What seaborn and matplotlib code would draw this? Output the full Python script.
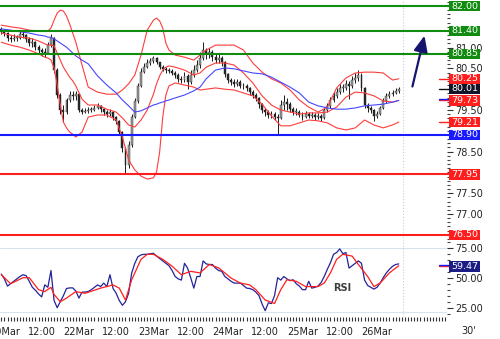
import numpy as np
import pandas as pd
import matplotlib
matplotlib.use("Agg")
import matplotlib.pyplot as plt
import seaborn as sns
from matplotlib.ticker import MultipleLocator, FixedLocator, FixedFormatter
from matplotlib.patches import Rectangle
from matplotlib.transforms import blended_transform_factory

# ---------------- data (hourly bars, hour 0 = "20Mar" tick) ----------------
first_hour = -1
first_open = 81.45
close = [81.40, 81.35, 81.23, 81.21, 81.23, 81.23, 81.33, 81.30, 81.21, 81.11,
         81.13, 81.01, 80.94, 80.89, 80.87, 81.06, 81.23, 80.46, 79.86, 79.50,
         79.45, 79.74, 79.86, 79.84, 79.88, 79.50, 79.45, 79.48, 79.50, 79.50,
         79.55, 79.60, 79.52, 79.45, 79.40, 79.45, 79.33, 79.24, 78.97, 78.59,
         78.18, 78.66, 79.33, 79.72, 80.08, 80.41, 80.53, 80.63, 80.68, 80.75,
         80.65, 80.53, 80.49, 80.46, 80.44, 80.39, 80.34, 80.25, 80.22, 80.32,
         80.17, 80.34, 80.46, 80.58, 80.75, 80.94, 80.85, 80.89, 80.77, 80.70,
         80.75, 80.65, 80.37, 80.22, 80.17, 80.13, 80.17, 80.08, 80.08, 80.03,
         79.93, 79.86, 79.79, 79.64, 79.50, 79.45, 79.38, 79.40, 79.33, 79.31,
         79.62, 79.69, 79.64, 79.52, 79.45, 79.45, 79.38, 79.33, 79.40, 79.36,
         79.38, 79.33, 79.36, 79.31, 79.50, 79.60, 79.74, 79.84, 79.93, 80.03,
         80.03, 80.13, 80.08, 80.22, 80.27, 80.34, 80.03, 79.62, 79.55, 79.50,
         79.36, 79.40, 79.55, 79.72, 79.84, 79.88, 79.91, 79.96, 80.01]
high = [81.50, 81.45, 81.38, 81.30, 81.32, 81.30, 81.42, 81.40, 81.33, 81.25,
        81.22, 81.16, 81.06, 81.00, 80.98, 81.14, 81.32, 81.25, 80.50, 79.90,
        79.62, 79.80, 79.96, 79.95, 79.96, 79.88, 79.55, 79.55, 79.57, 79.57,
        79.62, 79.66, 79.62, 79.55, 79.50, 79.52, 79.47, 79.36, 79.26, 79.00,
        78.62, 78.75, 79.40, 79.80, 80.15, 80.50, 80.62, 80.72, 80.75, 80.80,
        80.78, 80.66, 80.58, 80.54, 80.52, 80.48, 80.44, 80.38, 80.32, 80.42,
        80.36, 80.45, 80.58, 80.70, 80.90, 81.13, 81.00, 80.98, 80.95, 80.85,
        80.85, 80.80, 80.68, 80.40, 80.28, 80.24, 80.25, 80.22, 80.16, 80.13,
        80.06, 79.97, 79.90, 79.82, 79.68, 79.56, 79.50, 79.48, 79.45, 79.40,
        79.75, 79.86, 79.80, 79.70, 79.58, 79.54, 79.50, 79.44, 79.47, 79.45,
        79.45, 79.42, 79.43, 79.40, 79.56, 79.68, 79.82, 79.93, 80.02, 80.12,
        80.12, 80.22, 80.20, 80.32, 80.40, 80.46, 80.40, 80.05, 79.68, 79.60,
        79.52, 79.48, 79.60, 79.78, 79.90, 79.95, 79.98, 80.04, 80.06]
low = [81.33, 81.28, 81.16, 81.13, 81.15, 81.16, 81.20, 81.22, 81.13, 81.04,
       81.02, 80.94, 80.86, 80.80, 80.78, 80.85, 81.02, 80.40, 79.80, 79.40,
       79.22, 79.40, 79.70, 79.75, 79.74, 79.45, 79.40, 79.42, 79.43, 79.45,
       79.47, 79.52, 79.46, 79.38, 79.33, 79.36, 79.26, 79.16, 78.90, 78.50,
       77.95, 78.10, 78.60, 79.30, 79.68, 80.05, 80.38, 80.50, 80.58, 80.64,
       80.60, 80.48, 80.43, 80.40, 80.38, 80.33, 80.28, 80.18, 80.14, 80.18,
       80.00, 80.12, 80.30, 80.42, 80.50, 80.70, 80.72, 80.75, 80.68, 80.62,
       80.62, 80.55, 80.30, 80.15, 80.10, 80.06, 80.08, 80.02, 80.00, 79.96,
       79.86, 79.78, 79.72, 79.56, 79.42, 79.36, 79.30, 79.30, 79.25, 78.90,
       79.28, 79.50, 79.50, 79.45, 79.38, 79.38, 79.32, 79.26, 79.30, 79.30,
       79.31, 79.27, 79.28, 79.24, 79.28, 79.46, 79.56, 79.70, 79.80, 79.88,
       79.94, 79.98, 79.76, 80.04, 80.15, 80.20, 79.95, 79.55, 79.46, 79.42,
       79.24, 79.30, 79.38, 79.52, 79.68, 79.80, 79.84, 79.88, 79.92]

band_hours = [-1, 2, 5, 8, 11, 13, 14, 15, 16, 17, 18, 19, 20, 21, 22, 23, 25, 27, 30, 33,
              36, 38, 40, 42, 44, 46, 48, 49, 50, 51, 52, 53, 55, 58, 61, 63, 65, 68, 71, 74,
              77, 80, 83, 86, 89, 92, 95, 98, 101, 104, 107, 110, 113, 116, 119, 122, 125, 127]
bb_upper = [81.54, 81.50, 81.47, 81.42, 81.40, 81.40, 81.40, 81.47, 81.66, 81.83,
            81.90, 81.88, 81.76, 81.57, 81.35, 81.13, 80.58, 80.05, 79.93, 79.88,
            79.88, 79.98, 80.13, 80.34, 80.82, 81.42, 81.66, 81.71, 81.64, 81.47,
            81.11, 80.94, 80.82, 80.77, 80.70, 80.82, 80.94, 81.06, 81.06, 81.06,
            80.94, 80.63, 80.41, 80.25, 80.15, 79.98, 79.74, 79.57, 79.45, 79.57,
            80.03, 80.27, 80.39, 80.41, 80.41, 80.39, 80.22, 80.25]
bb_middle = [81.35, 81.30, 81.25, 81.23, 81.16, 81.09, 81.06, 81.06, 81.04, 80.87,
             80.70, 80.53, 80.41, 80.29, 80.20, 80.08, 79.76, 79.62, 79.62, 79.52,
             79.45, 79.31, 79.14, 79.09, 79.26, 79.50, 79.88, 80.13, 80.32, 80.46,
             80.53, 80.56, 80.53, 80.46, 80.34, 80.39, 80.53, 80.63, 80.63, 80.58,
             80.39, 80.15, 79.84, 79.62, 79.50, 79.45, 79.40, 79.43, 79.43, 79.45,
             79.57, 79.81, 79.93, 79.91, 79.84, 79.72, 79.69, 79.73]
bb_lower = [81.13, 81.06, 81.01, 80.94, 80.85, 80.77, 80.75, 80.70, 80.51, 80.10,
            79.62, 79.21, 79.07, 78.97, 78.92, 78.85, 78.97, 79.33, 79.38, 79.38,
            79.26, 78.85, 78.30, 78.06, 77.91, 77.84, 77.87, 78.01, 78.49, 79.33,
            79.86, 80.08, 80.15, 80.10, 80.05, 79.98, 80.00, 80.03, 80.00, 79.98,
            79.91, 79.84, 79.64, 79.36, 79.12, 79.12, 79.19, 79.26, 79.24, 79.19,
            79.07, 79.02, 79.07, 79.26, 79.14, 79.07, 79.14, 79.21]
ma_long = [81.45, 81.42, 81.38, 81.35, 81.30, 81.28, 81.25, 81.25, 81.21, 81.16,
           81.11, 81.06, 81.01, 80.94, 80.87, 80.80, 80.70, 80.61, 80.32, 80.10,
           79.91, 79.74, 79.60, 79.45, 79.48, 79.55, 79.62, 79.64, 79.67, 79.69,
           79.72, 79.74, 79.79, 79.86, 79.96, 80.05, 80.25, 80.46, 80.51, 80.49,
           80.44, 80.39, 80.37, 80.29, 80.17, 80.05, 79.91, 79.69, 79.60, 79.55,
           79.52, 79.52, 79.55, 79.60, 79.62, 79.64, 79.69, 79.73]

rsi = [53, 49, 43, 45, 47, 49, 51, 52.5, 51.7, 47,
       42, 39.5, 36.5, 34, 44, 42, 56, 31, 25, 30,
       35, 41, 41.5, 41.5, 39, 33, 38, 38, 38.5, 40,
       42, 44, 42.6, 45.5, 42.6, 52.5, 41, 37, 31, 27,
       30, 37, 54, 62, 67.5, 69, 69.5, 69.5, 70, 70.3,
       68, 66, 64, 62, 60, 56, 51, 49, 48, 62,
       58, 50, 41.3, 51, 51, 64, 61.5, 61, 61, 58,
       56, 55.3, 51, 49, 47, 45.5, 45.5, 45.5, 43.5, 41.3,
       41, 40, 38, 35, 28, 22.5, 29, 28.5, 35, 50,
       48, 51, 49, 47.5, 48.3, 45, 43, 40, 40, 47,
       41.3, 42, 43, 46, 51, 57, 62.5, 69.5, 71, 74,
       70, 71, 58, 60, 62, 64, 62, 48, 43.5, 42,
       40.5, 42, 45.5, 50, 54, 57, 59.5, 61, 61.5]
sig_hours = [-1, 2, 6, 8, 11, 13, 15, 16, 18, 20, 23, 26, 31, 35, 37, 39, 41, 44, 46, 48,
             51, 54, 57, 60, 63, 66, 69, 73, 76, 79, 81, 84, 87, 89, 91, 94, 97, 101, 103, 105,
             107, 109, 112, 114, 117, 119, 121, 124, 127]
rsi_signal = [52.5, 45, 50, 50, 40, 38.4, 42, 36, 30, 33,
              38.4, 37, 41.3, 44, 41.3, 31.4, 48.3, 65.3, 69.5, 69.5,
              65.3, 59.6, 52.5, 55.3, 54, 61, 58.2, 49.7, 45.5, 44,
              40, 31.4, 28.5, 40, 48.3, 47, 42.6, 42.6, 45.5, 54,
              65.3, 69.5, 68, 61, 51, 42.6, 45.5, 54, 60]

tick_hours = [0, 12, 24, 36, 48, 60, 72, 84, 96, 108, 120]
tick_labels = ["20Mar", "12:00", "22Mar", "12:00", "23Mar", "12:00",
               "24Mar", "12:00", "25Mar", "12:00", "26Mar"]

green_levels = [82.00, 81.40, 80.85]
blue_levels = [78.90]
red_levels = [77.95, 76.50]
price_labels = [81.00, 80.50, 79.50, 78.50, 77.50, 77.00]
rsi_labels = [25.0, 50.0, 75.0]
last_close = 80.01
last_upper, last_middle, last_lower = 80.25, 79.73, 79.21
last_rsi = 59.47

# ---------------- styling ----------------
sns.set_style("white")
plt.rcParams['font.family'] = ['DejaVu Sans']

GREEN = '#118c11'
RED = '#ff1e1e'
BLUE = '#1a1aff'
NAVY = '#15156e'
BAND = '#ff3c3c'
MA = '#4646ff'

W, H = 500, 339
fig = plt.figure(figsize=(W / 100, H / 100), dpi=100)
AXR_PX = 447
ax = fig.add_axes([0, 1 - 241 / H, AXR_PX / W, 241 / H])
axr = fig.add_axes([0, 1 - 317 / H, AXR_PX / W, 76 / H], sharex=ax)

px_per_hour = 3.105
hour0_px = 4.4
xlim = (-hour0_px / px_per_hour, (AXR_PX - hour0_px) / px_per_hour)

# ---------------- price panel ----------------
hours = np.arange(first_hour, first_hour + len(close))
c = np.array(close)
o = np.r_[first_open, c[:-1]]
hi = np.array(high)
lo = np.array(low)
ax.vlines(hours, lo, hi, color='#1a1a1a', lw=0.7, zorder=3)
body_bottom = np.minimum(o, c)
body_h = np.maximum(np.abs(c - o), 0.015)
up = c >= o
ax.bar(hours[up], body_h[up], bottom=body_bottom[up], width=0.62,
       color='#9c9c9c', edgecolor='#2a2a2a', linewidth=0.3, zorder=3.2)
ax.bar(hours[~up], body_h[~up], bottom=body_bottom[~up], width=0.62,
       color='#2a2a2a', edgecolor='#1a1a1a', linewidth=0.3, zorder=3.2)

bands = pd.DataFrame({'hour': band_hours, 'upper': bb_upper, 'middle': bb_middle,
                      'lower': bb_lower, 'ma': ma_long})
for col in ['upper', 'middle', 'lower']:
    sns.lineplot(data=bands, x='hour', y=col, ax=ax, color=BAND, lw=0.8, zorder=4)
sns.lineplot(data=bands, x='hour', y='ma', ax=ax, color=MA, lw=0.8, zorder=4)

ytr = ax.get_yaxis_transform()
end_frac = 450 / AXR_PX
for lv in green_levels:
    ax.plot([0, end_frac], [lv, lv], transform=ytr, color=GREEN, lw=1.5, clip_on=False, zorder=5)
for lv in blue_levels:
    ax.plot([0, end_frac], [lv, lv], transform=ytr, color=BLUE, lw=1.5, clip_on=False, zorder=5)
for lv in red_levels:
    ax.plot([0, end_frac], [lv, lv], transform=ytr, color=RED, lw=1.5, clip_on=False, zorder=5)

mk0 = 439 / AXR_PX
for lv, col in [(last_upper, RED), (last_close, '#111111'), (last_middle, RED), (last_lower, RED)]:
    ax.plot([mk0, end_frac], [lv, lv], transform=ytr, color=col, lw=1.0, clip_on=False, zorder=5)
ax.plot([mk0, end_frac], [last_middle + 0.04, last_middle + 0.04], transform=ytr,
        color=BLUE, lw=1.0, clip_on=False, zorder=5)

ax.annotate('', xy=(135.5, 81.35), xytext=(131.2, 80.00),
            arrowprops=dict(arrowstyle='-|>,head_length=0.8,head_width=0.35',
                            color=NAVY, lw=1.6, mutation_scale=12), zorder=6)

ax.axvline(128.4, color='#bcd0e4', ls=':', lw=0.8, zorder=1)
ax.set_xlim(*xlim)
ax.set_ylim(82 - 235 / 41.6, 82 + 6 / 41.6)
ax.set_xlabel('')
ax.set_ylabel('')
ax.yaxis.tick_right()
ax.yaxis.set_major_locator(FixedLocator(price_labels))
ax.yaxis.set_major_formatter(FixedFormatter([f"{v:.2f}" for v in price_labels]))
ax.yaxis.set_minor_locator(MultipleLocator(0.1))
ax.tick_params(axis='y', which='major', direction='out', length=4, width=0.8,
               color='#333333', labelsize=7, labelcolor='#222222', pad=2)
ax.tick_params(axis='y', which='minor', direction='out', length=2.5, width=0.8, color='#444444')
ax.tick_params(axis='x', which='both', bottom=False, labelbottom=False)
for s in ax.spines.values():
    s.set_visible(False)

# ---------------- RSI panel ----------------
sns.lineplot(x=hours, y=rsi, ax=axr, color='#23239a', lw=0.9, zorder=4)
sns.lineplot(x=sig_hours, y=rsi_signal, ax=axr, color=RED, lw=0.9, zorder=4.5)
axr.axhline(75, color='#d6e2ec', lw=0.8, zorder=1)
axr.axhline(21.5, color='#d6e2ec', lw=0.8, zorder=1)
axr.axvline(128.4, color='#bcd0e4', ls=':', lw=0.8, zorder=1)
axr.text(108.7, 41.7, 'RSI', fontsize=7, fontweight='bold', color='#3c3c3c',
         ha='center', va='center', zorder=6)
ytr2 = axr.get_yaxis_transform()
axr.plot([mk0, end_frac], [last_rsi, last_rsi], transform=ytr2, color=RED, lw=1.0, clip_on=False)
axr.plot([mk0, end_frac], [last_rsi + 1.5, last_rsi + 1.5], transform=ytr2, color=BLUE, lw=1.0, clip_on=False)

axr.set_ylim(50 - (317 - 277.7) / 1.2, 50 + (277.7 - 241) / 1.2)
axr.set_xlim(*xlim)
axr.set_xlabel('')
axr.set_ylabel('')
axr.yaxis.tick_right()
axr.yaxis.set_major_locator(FixedLocator(rsi_labels))
axr.yaxis.set_major_formatter(FixedFormatter([f"{v:.2f}" for v in rsi_labels]))
axr.yaxis.set_minor_locator(MultipleLocator(5))
axr.tick_params(axis='y', which='major', direction='out', length=4, width=0.8,
                color='#333333', labelsize=7, labelcolor='#222222', pad=2)
axr.tick_params(axis='y', which='minor', direction='out', length=2.5, width=0.8, color='#444444')
axr.xaxis.set_major_locator(FixedLocator(tick_hours))
axr.xaxis.set_major_formatter(FixedFormatter(tick_labels))
axr.xaxis.set_minor_locator(MultipleLocator(1))
axr.tick_params(axis='x', which='both', bottom=True, direction='out', length=3, width=0.8,
                color='#333333', labelsize=7, labelcolor='#222222', pad=4)
for s in axr.spines.values():
    s.set_visible(False)


# ---------------- value tags on the right ----------------
def tag(axis, val, txt, color, px_per_unit):
    tr = blended_transform_factory(fig.transFigure, axis.transData)
    hgt = 10.5 / px_per_unit
    rect = Rectangle((449 / W, val - hgt / 2), 31 / W, hgt, transform=tr,
                     facecolor=color, edgecolor='none', zorder=20)
    fig.add_artist(rect)
    fig.text(464.5 / W, val, txt, transform=tr, ha='center', va='center',
             color='white', fontsize=6.8, zorder=21)


for lv in green_levels:
    tag(ax, lv, f"{lv:.2f}", GREEN, 41.6)
tag(ax, last_upper, f"{last_upper:.2f}", RED, 41.6)
tag(ax, last_close, f"{last_close:.2f}", '#141428', 41.6)
tag(ax, last_middle, f"{last_middle:.2f}", RED, 41.6)
tag(ax, last_lower, f"{last_lower:.2f}", RED, 41.6)
for lv in blue_levels:
    tag(ax, lv, f"{lv:.2f}", BLUE, 41.6)
for lv in red_levels:
    tag(ax, lv, f"{lv:.2f}", RED, 41.6)
tag(axr, last_rsi, f"{last_rsi:.2f}", '#1c1c86', 1.2)

fig.text(469 / W, 1 - 331 / H, "30'", ha='center', va='center', fontsize=7, color='#222222')

fig.savefig('out.png', dpi=100)
